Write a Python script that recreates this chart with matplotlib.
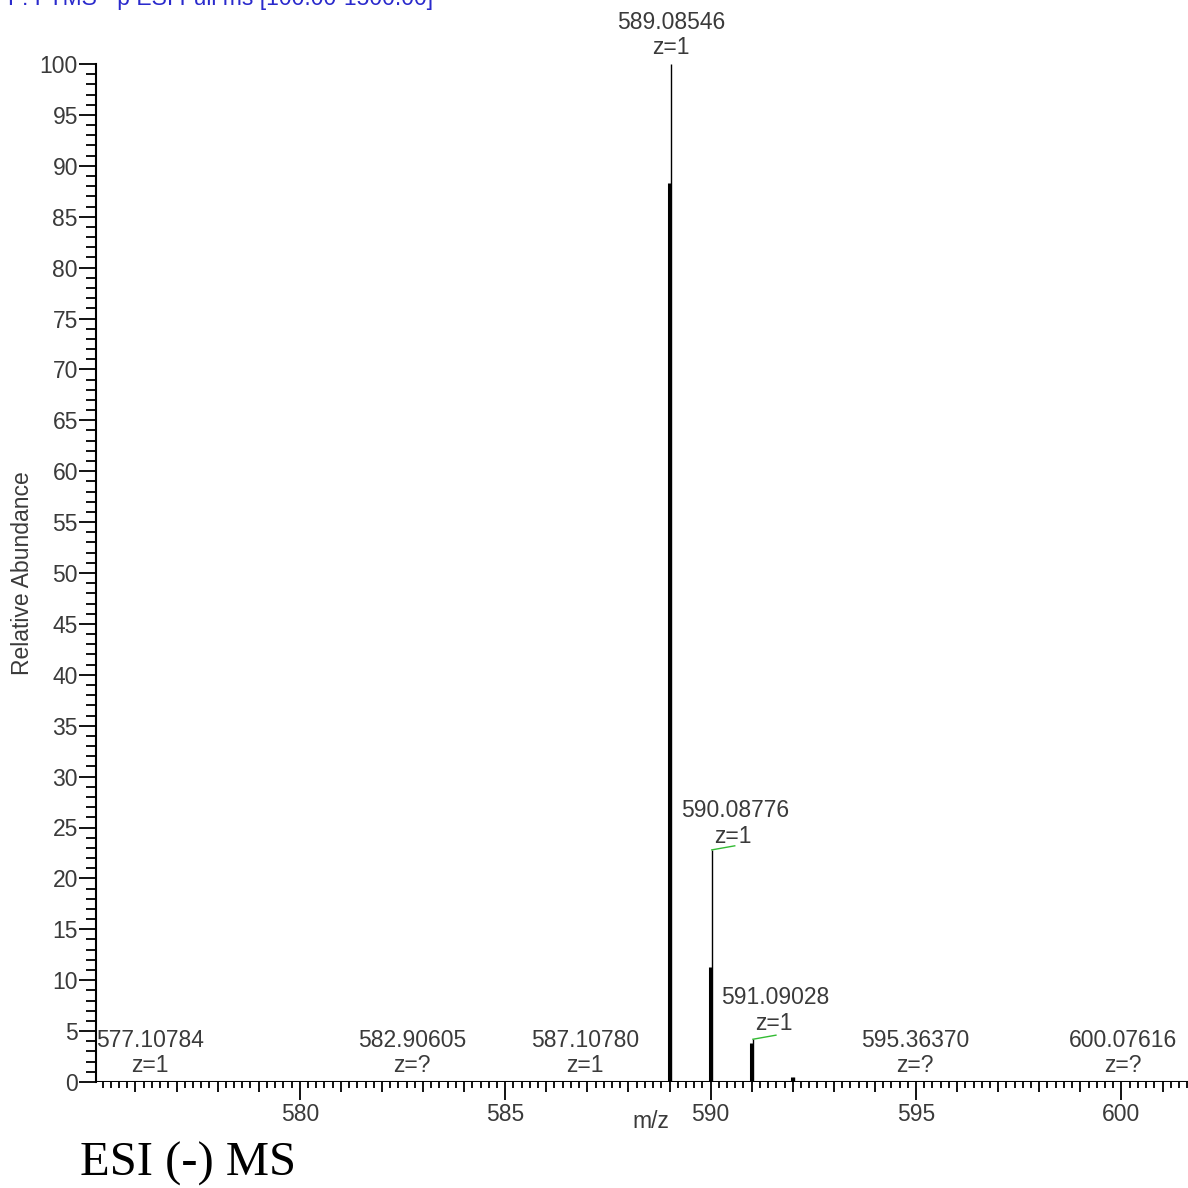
import matplotlib
matplotlib.use("Agg")
import matplotlib.pyplot as plt
from matplotlib.ticker import MultipleLocator, FuncFormatter

# peaks (centroid height = thin line, profile height = thick line)
peak_mz = [589.08546, 590.08776, 591.09028, 592.09]
peak_top = [100.0, 22.8, 4.2, 0.5]
peak_body = [88.3, 11.3, 3.8, 0.5]

# labelled peaks near the baseline
base_mz = [577.10784, 582.90605, 587.10780, 595.36370, 600.07616]
base_z = ["z=1", "z=?", "z=1", "z=?", "z=?"]
base_shift = [-0.75, -0.17, -0.17, -0.39, -0.05]

plt.rcParams['font.family'] = ['Liberation Sans', 'DejaVu Sans']
fs = 16.5
grey = '#3a3a3a'

fig = plt.figure(figsize=(11.88, 11.88), dpi=100)
ax = fig.add_axes([96/1188, 106/1188, 1 - 96/1188, 1018/1188])

ax.set_xlim(575.04, 601.62)
ax.set_ylim(0, 100)

ax.axhline(0, color='black', lw=1.5, zorder=3)
for mz, top, body in zip(peak_mz, peak_top, peak_body):
    ax.vlines(mz - 0.06, 0, top, color='black', lw=1.0)
    ax.vlines(mz - 0.1, 0, body, color='black', lw=2.2)

# green centroid markers
ax.plot([peak_mz[1] - 0.06, peak_mz[1] + 0.5], [peak_top[1], peak_top[1] + 0.4], color='#33bb33', lw=1)
ax.plot([peak_mz[2] - 0.06, peak_mz[2] + 0.5], [peak_top[2], peak_top[2] + 0.4], color='#33bb33', lw=1)

# labels
ax.text(peak_mz[0] - 0.05, 104.1, "589.08546", ha='center', va='center', fontsize=fs, color=grey, clip_on=False)
ax.text(peak_mz[0] - 0.05, 101.6, "z=1", ha='center', va='center', fontsize=fs, color=grey, clip_on=False)
ax.text(peak_mz[1] + 0.5, 26.7, "590.08776", ha='center', va='center', fontsize=fs, color=grey)
ax.text(peak_mz[1] + 0.45, 24.1, "z=1", ha='center', va='center', fontsize=fs, color=grey)
ax.text(peak_mz[2] + 0.48, 8.3, "591.09028", ha='center', va='center', fontsize=fs, color=grey)
ax.text(peak_mz[2] + 0.45, 5.7, "z=1", ha='center', va='center', fontsize=fs, color=grey)
for mz, z, sh in zip(base_mz, base_z, base_shift):
    ax.text(mz + sh, 4.1, "%.5f" % mz, ha='center', va='center', fontsize=fs, color=grey)
    ax.text(mz + sh, 1.6, z, ha='center', va='center', fontsize=fs, color=grey)

# axes style
for s in ['top', 'right']:
    ax.spines[s].set_visible(False)
ax.spines['left'].set_linewidth(1.5)
ax.spines['bottom'].set_visible(False)

ax.xaxis.set_major_locator(MultipleLocator(1))
ax.xaxis.set_minor_locator(MultipleLocator(0.2))
ax.xaxis.set_major_formatter(FuncFormatter(lambda v, p: "%d" % round(v) if round(v) % 5 == 0 else ""))
ax.yaxis.set_major_locator(MultipleLocator(5))
ax.yaxis.set_minor_locator(MultipleLocator(1))
ax.tick_params(axis='both', which='major', labelsize=fs, labelcolor=grey, width=1.3)
ax.tick_params(axis='y', which='major', length=12, pad=1)
ax.tick_params(axis='y', which='minor', length=7, width=1.3)
ax.tick_params(axis='x', which='major', length=7, pad=8)
ax.tick_params(axis='x', which='minor', length=4, width=1.3)
fig.canvas.draw()
for t in ax.xaxis.get_major_ticks():
    if round(t.get_loc()) % 5 == 0:
        t.tick1line.set_markersize(13)

ax.set_ylabel("Relative Abundance", fontsize=fs, color=grey, labelpad=4)
ax.set_xlabel("m/z", fontsize=fs, color=grey)
ax.xaxis.set_label_coords((651 - 96) / 1092, -(1122 - 1082) / 1018)
ax.xaxis.label.set_va('center')

fig.text(8/1188, 1.0 + 2/1188, "F: FTMS - p ESI Full ms [100.00-1500.00]", fontsize=fs,
         color='#2a2acc', ha='left', va='center')
fig.text(80/1188, 1 - 1164/1188, "ESI (-) MS", fontsize=35, family='Liberation Serif',
         ha='left', va='center', color='black')

fig.savefig("out.png", dpi=100)
